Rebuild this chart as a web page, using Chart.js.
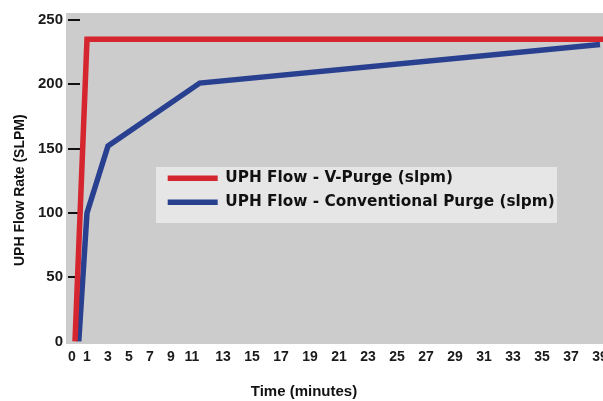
<!DOCTYPE html>
<html>
<head>
<meta charset="utf-8">
<script src="https://cdn.jsdelivr.net/npm/chart.js@4/dist/chart.umd.min.js"></script>
<style>
html,body{margin:0;padding:0;background:#ffffff;}
#wrap{width:603px;height:401px;position:relative;}
</style>
</head>
<body>
<div id="wrap"><canvas id="c"></canvas></div>
<script>
// ---- data ----
const xTickLabels = [0, 1, 3, 5, 7, 9, 11, 13, 15, 17, 19, 21, 23, 25, 27, 29, 31, 33, 35, 37, 39];
const yTickValues = [0, 50, 100, 150, 200, 250];
const seriesNames = ['UPH Flow - V-Purge (slpm)', 'UPH Flow - Conventional Purge (slpm)'];
const vPurgeTime = [0.2, 1, 39.2];
const vPurgeFlow = [0, 235, 235];
const convTime = [0.45, 1, 3, 11.5, 39];
const convFlow = [0, 100, 152, 201, 231];
const xAxisTitle = 'Time (minutes)';
const yAxisTitle = 'UPH Flow Rate (SLPM)';

// ---- a linear scale whose minute axis is stretched piecewise, as in the reference ----
const BaseLinear = Chart.LinearScale || Chart.registry.getScale('linear');
class WarpScale extends BaseLinear {
  static id = 'warp';
  static defaults = {};
  _warp(v) {
    const k = this.options.knots;
    if (v <= k[0][0]) return k[0][1];
    for (let i = 1; i < k.length; i++) {
      if (v <= k[i][0]) {
        const t = (v - k[i-1][0]) / (k[i][0] - k[i-1][0]);
        return k[i-1][1] + t * (k[i][1] - k[i-1][1]);
      }
    }
    return k[k.length-1][1];
  }
  _unwarp(d) {
    const k = this.options.knots;
    if (d <= k[0][1]) return k[0][0];
    for (let i = 1; i < k.length; i++) {
      if (d <= k[i][1]) {
        const t = (d - k[i-1][1]) / (k[i][1] - k[i-1][1]);
        return k[i-1][0] + t * (k[i][0] - k[i-1][0]);
      }
    }
    return k[k.length-1][0];
  }
  getPixelForValue(value) {
    return value === null ? NaN : this.getPixelForDecimal(this._warp(value));
  }
  getValueForPixel(pixel) {
    return this._unwarp(this.getDecimalForPixel(pixel));
  }
}
Chart.register(WarpScale);

const FONT = "'Liberation Sans', Arial, sans-serif";
const LEGEND_FONT = "'DejaVu Sans', 'Liberation Sans', sans-serif";
const RED = '#d5252f';
const BLUE = '#28408f';

const plotBackground = {
  id: 'plotBackground',
  beforeDraw(chart) {
    const {ctx, chartArea: a} = chart;
    ctx.save();
    ctx.fillStyle = '#cccccc';
    ctx.fillRect(a.left, a.top, a.right - a.left, a.bottom - a.top);
    const lg = chart.legend;
    if (lg) {
      ctx.fillStyle = '#e6e6e6';
      ctx.fillRect(lg.left - 3, lg.top + 5, 401, 56);
    }
    ctx.restore();
  },
  beforeDatasetsDraw(chart) {
    const {ctx, chartArea: a, scales} = chart;
    const y = scales.y;
    ctx.save();
    ctx.strokeStyle = '#111111';
    ctx.lineWidth = 2;
    ctx.beginPath();
    y.ticks.forEach((t, i) => {
      if (t.value <= 0) return;
      const py = Math.round(y.getPixelForTick(i));
      ctx.moveTo(a.left + 2, py);
      ctx.lineTo(a.left + 14, py);
    });
    ctx.stroke();
    ctx.restore();
  },
  afterLayout(chart) {
    const lg = chart.legend;
    const a = chart.chartArea;
    if (!lg) return;
    lg.left = a.left + 93;
    lg.top = a.top + 149;
    lg.right = lg.left + lg.width;
    lg.height = 62;
    lg.bottom = lg.top + 62;
  }
};

new Chart(document.getElementById('c'), {
  type: 'line',
  data: {
    datasets: [
      {
        label: seriesNames[0],
        data: vPurgeTime.map((t, i) => ({x: t, y: vPurgeFlow[i]})),
        borderColor: RED,
        backgroundColor: RED,
        borderWidth: 5.5,
        borderJoinStyle: 'miter',
        pointRadius: 0,
        tension: 0,
        fill: false
      },
      {
        label: seriesNames[1],
        data: convTime.map((t, i) => ({x: t, y: convFlow[i]})),
        borderColor: BLUE,
        backgroundColor: BLUE,
        borderWidth: 5.5,
        borderJoinStyle: 'miter',
        pointRadius: 0,
        tension: 0,
        fill: false
      }
    ]
  },
  options: {
    responsive: true,
    maintainAspectRatio: false,
    animation: false,
    devicePixelRatio: 1,
    layout: {padding: {left: 5, top: 13, right: 0, bottom: 0}},
    scales: {
      x: {
        type: 'warp',
        min: -0.4,
        max: 39.2,
        knots: [[-0.4, 0], [0, 0.0112], [1, 0.0391], [3, 0.0782], [11, 0.2346], [13, 0.2924], [39, 0.9944], [39.2, 1]],
        afterBuildTicks(scale) { scale.ticks = xTickLabels.map(v => ({value: v})); },
        afterFit(scale) { scale.height = 25; scale.paddingLeft = 0; scale.paddingRight = 0; },
        grid: {display: false, drawTicks: false},
        border: {display: false},
        ticks: {
          autoSkip: false, maxRotation: 0, minRotation: 0, padding: 5,
          color: '#1a1a1a', font: {family: FONT, size: 14, weight: 'bold'},
          callback: v => String(v)
        }
      },
      y: {
        type: 'linear',
        min: -2,
        max: 255.5,
        afterBuildTicks(scale) { scale.ticks = yTickValues.map(v => ({value: v})); },
        afterFit(scale) { scale.width = 61; },
        grid: {display: false, drawTicks: false},
        border: {display: false},
        ticks: {
          padding: 3, color: '#1a1a1a', font: {family: FONT, size: 15, weight: 'bold'},
          callback: v => String(v)
        },
        title: {
          display: true, text: yAxisTitle + '      ', color: '#111111',
          font: {family: FONT, size: 14, weight: 'bold'},
          padding: {top: 6.6, bottom: 0}
        }
      }
    },
    plugins: {
      tooltip: {enabled: false},
      title: {
        display: true, position: 'bottom', text: xAxisTitle, color: '#111111',
        font: {family: FONT, size: 15, weight: 'bold'},
        padding: {top: 14, bottom: 0}
      },
      legend: {
        display: true,
        position: 'chartArea',
        align: 'start',
        labels: {
          usePointStyle: true, pointStyle: 'line', pointStyleWidth: 50,
          padding: 8.7, color: '#111111',
          font: {family: LEGEND_FONT, size: 15.3, weight: 'bold'}
        }
      }
    }
  },
  plugins: [plotBackground]
});
</script>
</body>
</html>
